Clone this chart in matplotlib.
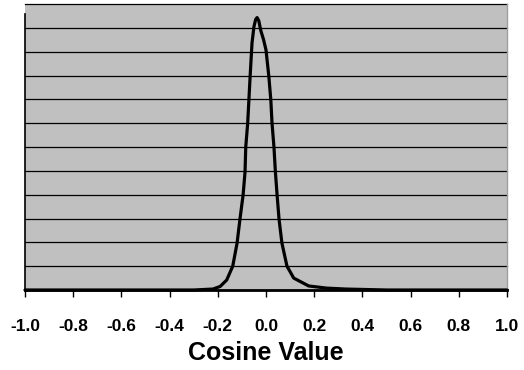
import matplotlib
matplotlib.use("Agg")
import matplotlib.pyplot as plt

# Data (cosine value vs frequency)
cosine_values = [-1.0, -0.6, -0.3, -0.22, -0.19, -0.163, -0.138, -0.120, -0.108, -0.095,
                 -0.087, -0.084, -0.076, -0.071, -0.066, -0.058, -0.050, -0.043, -0.037,
                 -0.030, -0.022, -0.010, 0.0, 0.012, 0.020, 0.025, 0.033, 0.039, 0.046,
                 0.054, 0.066, 0.087, 0.115, 0.177, 0.25, 0.33, 0.5, 0.8, 1.0]
frequency = [0.0, 0.0, 0.0, 0.04, 0.15, 0.42, 1.0, 1.97, 2.98, 3.99,
             4.95, 6.0, 7.0, 7.97, 8.94, 10.37, 11.05, 11.35, 11.43,
             11.3, 10.9, 10.5, 10.07, 8.94, 7.97, 7.0, 6.0, 4.95, 3.99,
             2.98, 1.97, 1.0, 0.5, 0.17, 0.08, 0.04, 0.0, 0.0, 0.0]
x_ticks = [-1.0, -0.8, -0.6, -0.4, -0.2, 0.0, 0.2, 0.4, 0.6, 0.8, 1.0]
x_tick_labels = ["-1.0", "-0.8", "-0.6", "-0.4", "-0.2", "0.0", "0.2", "0.4", "0.6", "0.8", "1.0"]
y_grid = list(range(0, 13))
x_label = "Cosine Value"

W, H = 524, 370
fig = plt.figure(figsize=(W / 100, H / 100), dpi=100)
left, right, top, bottom = 25, 507, 4, 290
ax = fig.add_axes([left / W, (H - bottom) / H, (right - left) / W, (bottom - top) / H])
ax.set_facecolor("#C0C0C0")
ax.set_xlim(-1.0, 1.0)
ax.set_ylim(0, 12)

for yv in y_grid[1:]:
    ax.axhline(yv, color="black", lw=0.9, zorder=1, clip_on=False)

ax.plot(cosine_values, frequency, color="black", lw=2.3, solid_joinstyle="round",
        solid_capstyle="round", zorder=3, clip_on=False)

ax.spines["top"].set_visible(False)
ax.spines["right"].set_color("#A0A0A0")
ax.spines["right"].set_linewidth(1.0)
ax.spines["left"].set_color("black")
ax.spines["left"].set_linewidth(1.2)
ax.spines["left"].set_bounds(0, 11.6)
ax.spines["bottom"].set_color("black")
ax.spines["bottom"].set_linewidth(2.0)
ax.spines["bottom"].set_zorder(4)

ax.set_yticks([])
ax.set_xticks(x_ticks)
ax.set_xticklabels(x_tick_labels, fontfamily="Liberation Sans", fontweight="bold", fontsize=12.5)
ax.tick_params(axis="x", direction="out", length=5, width=1.0, color="black", pad=16)

ax.set_xlabel(x_label, fontfamily="Liberation Sans", fontweight="bold", fontsize=18, labelpad=5)

fig.savefig("out.png", dpi=100)
